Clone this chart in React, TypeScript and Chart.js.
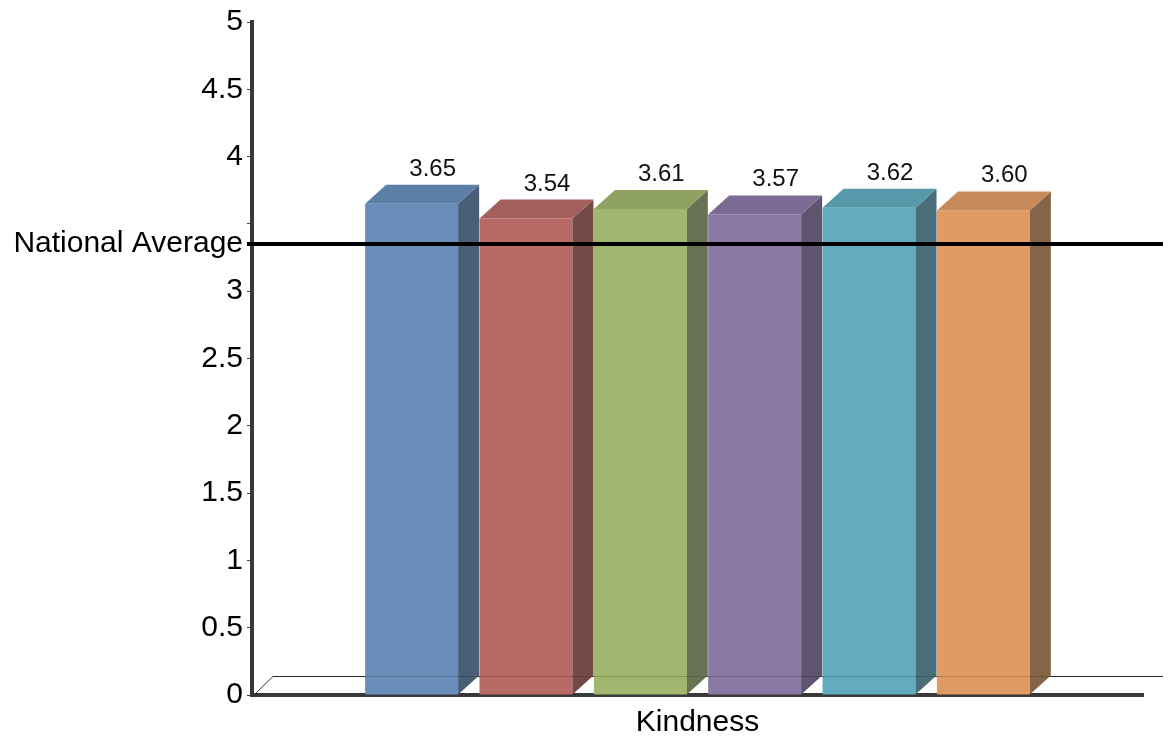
import React, { useEffect, useRef } from 'react';
import { Chart, registerables } from 'chart.js';

Chart.register(...registerables);

const CATEGORIES = ['Kindness'];
const SERIES_NAMES = ['Series 1', 'Series 2', 'Series 3', 'Series 4', 'Series 5', 'Series 6'];
const SERIES_VALUES = [3.65, 3.54, 3.61, 3.57, 3.62, 3.6];
const FRONT_COLORS = ['#688DB8', '#B96A67', '#A1B66F', '#8A78A4', '#63ABBF', '#E09A62'];
const TOP_COLORS = ['#5D7EA6', '#A55F5C', '#8FA263', '#7B6A93', '#5898AB', '#C88A58'];
const SIDE_COLORS = ['#4A5E78', '#744A49', '#677352', '#5E546F', '#4A6F79', '#866447'];
const Y_TICKS = [0, 0.5, 1, 1.5, 2, 2.5, 3, 3.5, 4, 4.5, 5];
const UNLABELLED_TICKS = [3.5];
const NATIONAL_AVERAGE = 3.35;
const NATIONAL_AVERAGE_LABEL = 'National Average';

const FONT = 'Liberation Sans, Arial, sans-serif';
const DX = 21;
const DY = 19;
const FLOOR_DX = 19;
const FLOOR_EXT = 20;

const bar3dPlugin = {
  id: 'bar3d',
  beforeDatasetsDraw(chart: any) {
    const { ctx, chartArea } = chart;
    const { left, right, bottom } = chartArea;
    ctx.save();
    ctx.strokeStyle = '#333';
    ctx.lineWidth = 1;
    ctx.beginPath();
    ctx.moveTo(left + 2, bottom);
    ctx.lineTo(left + 2 + FLOOR_DX, bottom - DY + 0.5);
    ctx.lineTo(right + FLOOR_EXT, bottom - DY + 0.5);
    ctx.stroke();
    ctx.restore();
  },
  afterDatasetsDraw(chart: any) {
    const { ctx, chartArea, scales } = chart;
    const { left, right, bottom } = chartArea;
    ctx.save();
    chart.data.datasets.forEach((ds: any, i: number) => {
      const meta = chart.getDatasetMeta(i);
      meta.data.forEach((bar: any, j: number) => {
        const { x, y, base, width } = bar.getProps(['x', 'y', 'base', 'width'], true);
        const l = x - width / 2;
        const r = x + width / 2;
        // side face
        ctx.fillStyle = SIDE_COLORS[i];
        ctx.beginPath();
        ctx.moveTo(r, y);
        ctx.lineTo(r + DX, y - DY);
        ctx.lineTo(r + DX, base - DY);
        ctx.lineTo(r, base);
        ctx.closePath();
        ctx.fill();
        // top face
        ctx.fillStyle = TOP_COLORS[i];
        ctx.beginPath();
        ctx.moveTo(l, y);
        ctx.lineTo(l + DX, y - DY);
        ctx.lineTo(r + DX, y - DY);
        ctx.lineTo(r, y);
        ctx.closePath();
        ctx.fill();
        // value label
        const v = ds.data[j];
        ctx.fillStyle = '#111';
        ctx.font = `24px ${FONT}`;
        ctx.textAlign = 'center';
        ctx.textBaseline = 'alphabetic';
        ctx.fillText(Number(v).toFixed(2), x + DX, y - DY - 9);
      });
    });
    // faint floor line seen through the bars
    ctx.strokeStyle = 'rgba(0,0,0,0.18)';
    ctx.lineWidth = 1;
    ctx.beginPath();
    ctx.moveTo(left + 2 + FLOOR_DX, bottom - DY + 0.5);
    ctx.lineTo(right + FLOOR_EXT, bottom - DY + 0.5);
    ctx.stroke();
    // national average line
    const ay = scales.y.getPixelForValue(NATIONAL_AVERAGE);
    ctx.strokeStyle = '#000';
    ctx.lineWidth = 4;
    ctx.beginPath();
    ctx.moveTo(left - 5, ay);
    ctx.lineTo(right + FLOOR_EXT, ay);
    ctx.stroke();
    ctx.restore();
  },
};

export default function App() {
  const canvasRef = useRef<HTMLCanvasElement | null>(null);

  useEffect(() => {
    if (!canvasRef.current) return;
    const chart = new Chart(canvasRef.current, {
      type: 'bar',
      data: {
        labels: CATEGORIES,
        datasets: SERIES_NAMES.map((name, i) => ({
          label: name,
          data: [SERIES_VALUES[i]],
          backgroundColor: FRONT_COLORS[i],
          borderWidth: 0,
          categoryPercentage: 0.77,
          barPercentage: 0.813,
        })),
      },
      options: {
        responsive: false,
        animation: false,
        layout: { padding: { top: 19, right: 28, left: 0, bottom: 0 } },
        plugins: {
          legend: { display: false },
          tooltip: { enabled: false },
        },
        scales: {
          x: {
            type: 'category',
            z: 1,
            grid: { display: false },
            border: { display: true, color: '#383838', width: 4 },
            ticks: { color: '#000', font: { family: FONT, size: 30 }, padding: 2 },
            afterFit: (scale: any) => {
              scale.height = 42;
            },
          },
          y: {
            min: 0,
            max: 5,
            afterBuildTicks: (scale: any) => {
              scale.ticks = [...Y_TICKS, NATIONAL_AVERAGE]
                .sort((a, b) => a - b)
                .map((v) => ({ value: v }));
            },
            afterFit: (scale: any) => {
              scale.width = 252;
            },
            ticks: {
              autoSkip: false,
              color: '#000',
              padding: 4,
              font: { family: FONT, size: 30 },
              callback: (v: any) => {
                if (v === NATIONAL_AVERAGE) return NATIONAL_AVERAGE_LABEL;
                if (UNLABELLED_TICKS.includes(v)) return '';
                return String(v);
              },
            },
            grid: {
              drawOnChartArea: false,
              tickLength: 5,
              lineWidth: 1,
              color: (c: any) => (c.tick && c.tick.value === NATIONAL_AVERAGE ? 'rgba(0,0,0,0)' : '#444'),
            },
            border: { display: true, color: '#383838', width: 4 },
          },
        },
      },
      plugins: [bar3dPlugin],
    });
    return () => chart.destroy();
  }, []);

  return (
    <div style={{ position: 'fixed', left: 0, top: 0, width: 1171, height: 737, background: '#fff' }}>
      <canvas ref={canvasRef} width={1171} height={737} style={{ display: 'block' }} />
    </div>
  );
}
